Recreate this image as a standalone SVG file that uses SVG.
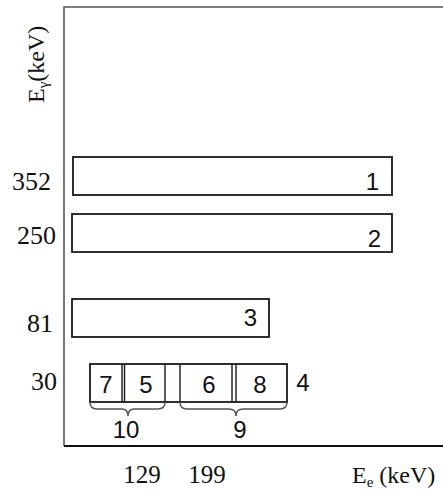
<svg xmlns="http://www.w3.org/2000/svg" width="443" height="491" viewBox="0 0 443 491">
<style>
.ax{stroke:#555;stroke-width:1.6;fill:none}
.bx{stroke:#1a1a1a;stroke-width:1.8;fill:#fff}
.dv{stroke:#1a1a1a;stroke-width:1.4;fill:none}
.br{stroke:#555;stroke-width:1.5;fill:none}
.tm{font-family:"Liberation Serif","Times New Roman",serif;fill:#111}
.ar{font-family:"Liberation Sans",Arial,sans-serif;fill:#111;font-size:24px}
</style>
<rect width="443" height="491" fill="#fff"/>
<g id="axes">
<path class="ax" d="M443,7 H64 V446"/>
<path d="M64,446 H443" stroke="#111" stroke-width="2" fill="none"/>
<text class="tm" font-size="24" transform="translate(44,103) rotate(-90)">E<tspan font-size="15" dy="4">γ</tspan><tspan dy="-4">(keV)</tspan></text>
<text class="tm" font-size="24" x="352" y="483">E<tspan font-size="15" dy="4">e</tspan><tspan dy="-4"> (keV)</tspan></text>
<text class="tm" font-size="26" x="51" y="190" text-anchor="end">352</text>
<text class="tm" font-size="26" x="56" y="244" text-anchor="end">250</text>
<text class="tm" font-size="26" x="53" y="332" text-anchor="end">81</text>
<text class="tm" font-size="26" x="57" y="390" text-anchor="end">30</text>
<text class="tm" font-size="25" x="142" y="483" text-anchor="middle">129</text>
<text class="tm" font-size="25" x="207" y="483" text-anchor="middle">199</text>
</g>
<g id="n1">
<rect class="bx" x="73" y="157" width="319" height="38"/>
<text class="ar" x="379" y="190" text-anchor="end">1</text>
</g>
<g id="n2">
<rect class="bx" x="72" y="214" width="320" height="38"/>
<text class="ar" x="381" y="247" text-anchor="end">2</text>
</g>
<g id="n3">
<rect class="bx" x="72" y="299" width="197" height="38"/>
<text class="ar" x="250.5" y="326" text-anchor="middle">3</text>
</g>
<g id="n4">
<rect class="bx" x="90" y="364" width="197" height="38"/>
<path class="dv" d="M122,364 V402 M124.5,364 V402 M165,364 V402 M180,364 V402 M232,364 V402 M236,364 V402"/>
<text class="ar" x="106" y="393" text-anchor="middle">7</text>
<text class="ar" x="146" y="393" text-anchor="middle">5</text>
<text class="ar" x="209" y="393" text-anchor="middle">6</text>
<text class="ar" x="260" y="393" text-anchor="middle">8</text>
<text class="ar" x="303" y="391" text-anchor="middle">4</text>
</g>
<g id="connectors">
<path class="br" d="M90,402 Q90,409 97,409 H122 Q128,409 128,416 Q128,409 134,409 H158 Q165,409 165,402"/>
<path class="br" d="M180,402 Q180,409 187,409 H229 Q236,409 236,416 Q236,409 243,409 H280 Q287,409 287,402"/>
</g>
<g id="n10">
<text class="ar" x="126" y="438" text-anchor="middle">10</text>
</g>
<g id="n9">
<text class="ar" x="240" y="438" text-anchor="middle">9</text>
</g>
</svg>
